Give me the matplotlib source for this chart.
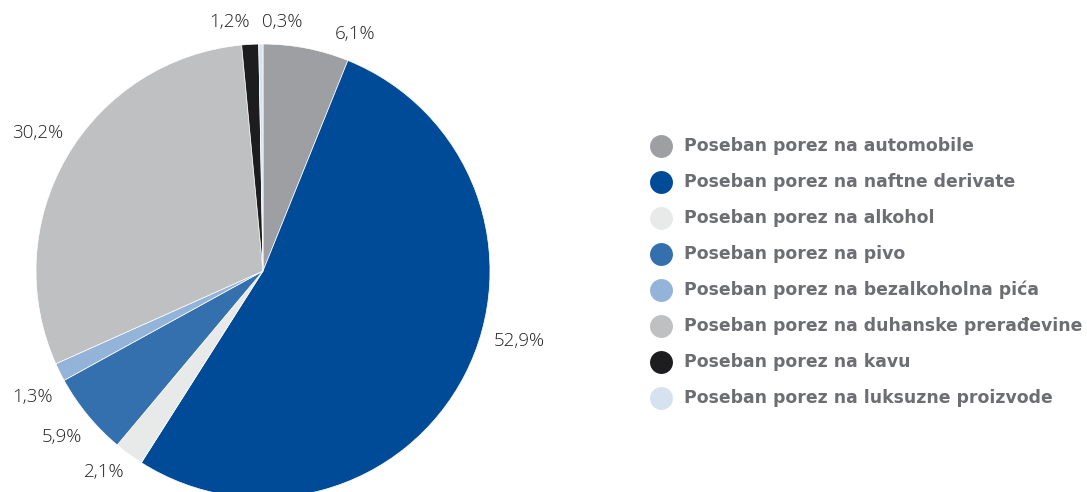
import matplotlib
matplotlib.use("Agg")
import matplotlib.pyplot as plt
import numpy as np

categories = [
    "Poseban porez na automobile",
    "Poseban porez na naftne derivate",
    "Poseban porez na alkohol",
    "Poseban porez na pivo",
    "Poseban porez na bezalkoholna pića",
    "Poseban porez na duhanske prerađevine",
    "Poseban porez na kavu",
    "Poseban porez na luksuzne proizvode",
]
values = [6.1, 52.9, 2.1, 5.9, 1.3, 30.2, 1.2, 0.3]
value_labels = ["6,1%", "52,9%", "2,1%", "5,9%", "1,3%", "30,2%", "1,2%", "0,3%"]
colors = ["#9d9fa2", "#004b98", "#e8eaea", "#3570ae", "#93b4d8", "#bfc0c2", "#1d1d1f", "#d6e2f0"]

W, H = 1087, 492
fig = plt.figure(figsize=(W / 100, H / 100), dpi=100)

cx, cy, R = 263, 271, 227
ax = fig.add_axes([(cx - R) / W, (H - cy - R) / H, 2 * R / W, 2 * R / H])
ax.pie(values, colors=colors, startangle=90, counterclock=False, radius=1,
       wedgeprops=dict(linewidth=0.5, edgecolor="white"))
ax.set_xlim(-1, 1)
ax.set_ylim(-1, 1)
ax.set_aspect("equal")
ax.axis("off")

# label pixel positions (centers)
label_px = [(355, 34), (519, 341), (104, 472), (62, 437), (32, 397), (38, 133), (229, 22), (282, 22)]
for (px, py), lab in zip(label_px, value_labels):
    ax.text((px - cx) / R, (cy - py) / R, lab, ha="center", va="center",
            fontsize=13.5, color="#222222", family="Open Sans", fontweight="light",
            clip_on=False)

# legend
lx_circle, lx_text, ly0, dy = 661, 684, 146, 36
for i, (c, cat) in enumerate(zip(colors, categories)):
    y = ly0 + i * dy
    fig.add_artist(plt.Line2D([lx_circle / W], [1 - y / H], marker="o", markersize=16.5,
                              color=c, markeredgewidth=0, linestyle="none",
                              transform=fig.transFigure))
    fig.text(lx_text / W, 1 - y / H, cat, ha="left", va="center", fontsize=12.4,
             fontweight="bold", color="#6d6e71", family="DejaVu Sans")

fig.savefig("out.png", dpi=100)
